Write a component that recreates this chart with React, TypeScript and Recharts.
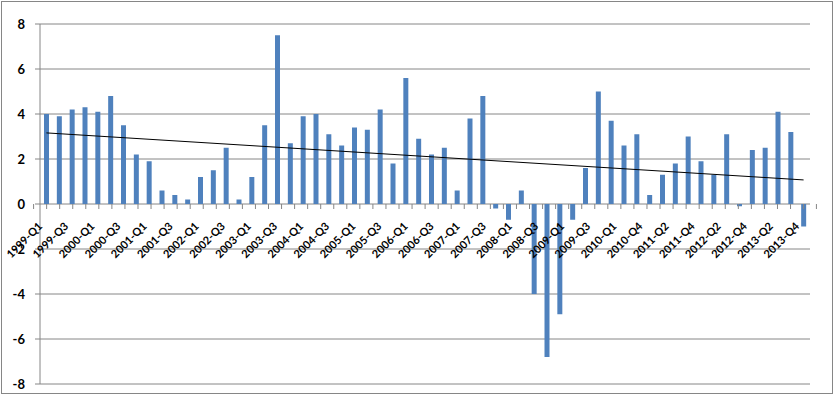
import React from 'react';
import { ComposedChart, Bar, Line, XAxis, YAxis, CartesianGrid } from 'recharts';

const quarters = [
  '1999-Q1', '1999-Q2', '1999-Q3', '1999-Q4',
  '2000-Q1', '2000-Q2', '2000-Q3', '2000-Q4',
  '2001-Q1', '2001-Q2', '2001-Q3', '2001-Q4',
  '2002-Q1', '2002-Q2', '2002-Q3', '2002-Q4',
  '2003-Q1', '2003-Q2', '2003-Q3', '2003-Q4',
  '2004-Q1', '2004-Q2', '2004-Q3', '2004-Q4',
  '2005-Q1', '2005-Q2', '2005-Q3', '2005-Q4',
  '2006-Q1', '2006-Q2', '2006-Q3', '2006-Q4',
  '2007-Q1', '2007-Q2', '2007-Q3', '2007-Q4',
  '2008-Q1', '2008-Q2', '2008-Q3', '2008-Q4',
  '2009-Q1', '2009-Q2', '2009-Q3', '2009-Q4',
  '2010-Q1', '2010-Q2', '2010-Q4',
  '2011-Q1', '2011-Q2', '2011-Q3', '2011-Q4',
  '2012-Q1', '2012-Q2', '2012-Q3', '2012-Q4',
  '2013-Q1', '2013-Q2', '2013-Q3', '2013-Q4',
  '2014-Q1',
];

const growth = [
  4.0, 3.9, 4.2, 4.3, 4.1, 4.8, 3.5, 2.2, 1.9, 0.6,
  0.4, 0.2, 1.2, 1.5, 2.5, 0.2, 1.2, 3.5, 7.5, 2.7,
  3.9, 4.0, 3.1, 2.6, 3.4, 3.3, 4.2, 1.8, 5.6, 2.9,
  2.2, 2.5, 0.6, 3.8, 4.8, -0.2, -0.7, 0.6, -4.0, -6.8,
  -4.9, -0.7, 1.6, 5.0, 3.7, 2.6, 3.1, 0.4, 1.3, 1.8,
  3.0, 1.9, 1.3, 3.1, -0.1, 2.4, 2.5, 4.1, 3.2, -1.0,
];

// Linear trendline end values (first and last quarter)
const trendEnds = [3.16, 1.07];

const yTicks = [-8, -6, -4, -2, 0, 2, 4, 6, 8];

const data = quarters.map((q, i) => ({
  q,
  g: growth[i],
  trend: i === 0 ? trendEnds[0] : i === quarters.length - 1 ? trendEnds[1] : null,
}));

const CHART_W = 835;
const CHART_H = 397;
const X_AXIS_H = 1;
const MARGIN = { top: 24, right: 25, bottom: 12, left: 0 };
const Y_AXIS_W = 40;
const PLOT_W = CHART_W - MARGIN.left - MARGIN.right - Y_AXIS_W;
const PLOT_H = CHART_H - MARGIN.top - MARGIN.bottom - X_AXIS_H;
const ZERO_Y = MARGIN.top + PLOT_H / 2;
const HALF_BAND = PLOT_W / quarters.length / 2;
const GRAY = '#868686';
const FONT = 'Lato, "Liberation Sans", sans-serif';
const LABEL_RUN = 70;

function QuarterTick(props: any) {
  const { x, index, payload } = props;
  const y0 = ZERO_Y;
  const ex = x + 3;
  const ey = y0 + 23;
  const sx = ex - LABEL_RUN;
  const sy = ey + LABEL_RUN;
  const pid = `qlab-path-${index}`;
  return (
    <g>
      <line x1={x - HALF_BAND} x2={x - HALF_BAND} y1={y0} y2={y0 + 5} stroke={GRAY} strokeWidth={1} />
      {index === quarters.length - 1 && (
        <line x1={x + HALF_BAND} x2={x + HALF_BAND} y1={y0} y2={y0 + 5} stroke={GRAY} strokeWidth={1} />
      )}
      {index % 2 === 0 && (
        <g>
          <path id={pid} d={`M ${sx} ${sy} L ${ex} ${ey}`} fill="none" stroke="none" />
          <text fontSize={11} fontWeight="bold" fontFamily={FONT} fill="#000">
            <textPath href={`#${pid}`} xlinkHref={`#${pid}`} startOffset="100%" textAnchor="end">
              {payload.value}
            </textPath>
          </text>
        </g>
      )}
    </g>
  );
}

function Overlay() {
  // Second, transparent chart with identical layout so the axis labels sit above the bars
  return (
    <ComposedChart width={CHART_W} height={CHART_H} data={data} margin={MARGIN} barCategoryGap={0}>
      <YAxis width={Y_AXIS_W} domain={[-8, 8]} ticks={yTicks} axisLine={false} tickLine={false} tick={false} />
      <XAxis
        dataKey="q"
        height={X_AXIS_H}
        interval={0}
        axisLine={false}
        tickLine={false}
        tick={(p: any) => <QuarterTick {...p} />}
      />
    </ComposedChart>
  );
}

export default function App() {
  return (
    <div style={{ position: 'absolute', left: 0, top: 0, width: CHART_W, height: CHART_H, background: '#fff' }}>
      <div
        style={{
          position: 'absolute',
          left: 1,
          top: 1,
          width: 832,
          height: 393,
          boxSizing: 'border-box',
          border: `1px solid ${GRAY}`,
        }}
      />
      <div style={{ position: 'absolute', left: 0, top: 0 }}>
        <ComposedChart width={CHART_W} height={CHART_H} data={data} margin={MARGIN} barCategoryGap={0}>
          <CartesianGrid horizontal vertical={false} stroke={GRAY} />
          <XAxis dataKey="q" height={X_AXIS_H} interval={0} axisLine={false} tickLine={false} tick={false} />
          <YAxis
            width={Y_AXIS_W}
            domain={[-8, 8]}
            ticks={yTicks}
            interval={0}
            allowDataOverflow
            axisLine={{ stroke: GRAY }}
            tickLine={{ stroke: GRAY }}
            tickSize={5}
            tickMargin={10}
            tick={{ fontSize: 13, fontWeight: 'bold', fontFamily: FONT, fill: '#000' }}
          />
          <Bar dataKey="g" fill="#4F81BD" barSize={5} isAnimationActive={false} />
          <Line
            dataKey="trend"
            stroke="#000"
            strokeWidth={1}
            dot={false}
            connectNulls
            isAnimationActive={false}
          />
        </ComposedChart>
      </div>
      <div style={{ position: 'absolute', left: 0, top: 0 }}>
        <Overlay />
      </div>
    </div>
  );
}
